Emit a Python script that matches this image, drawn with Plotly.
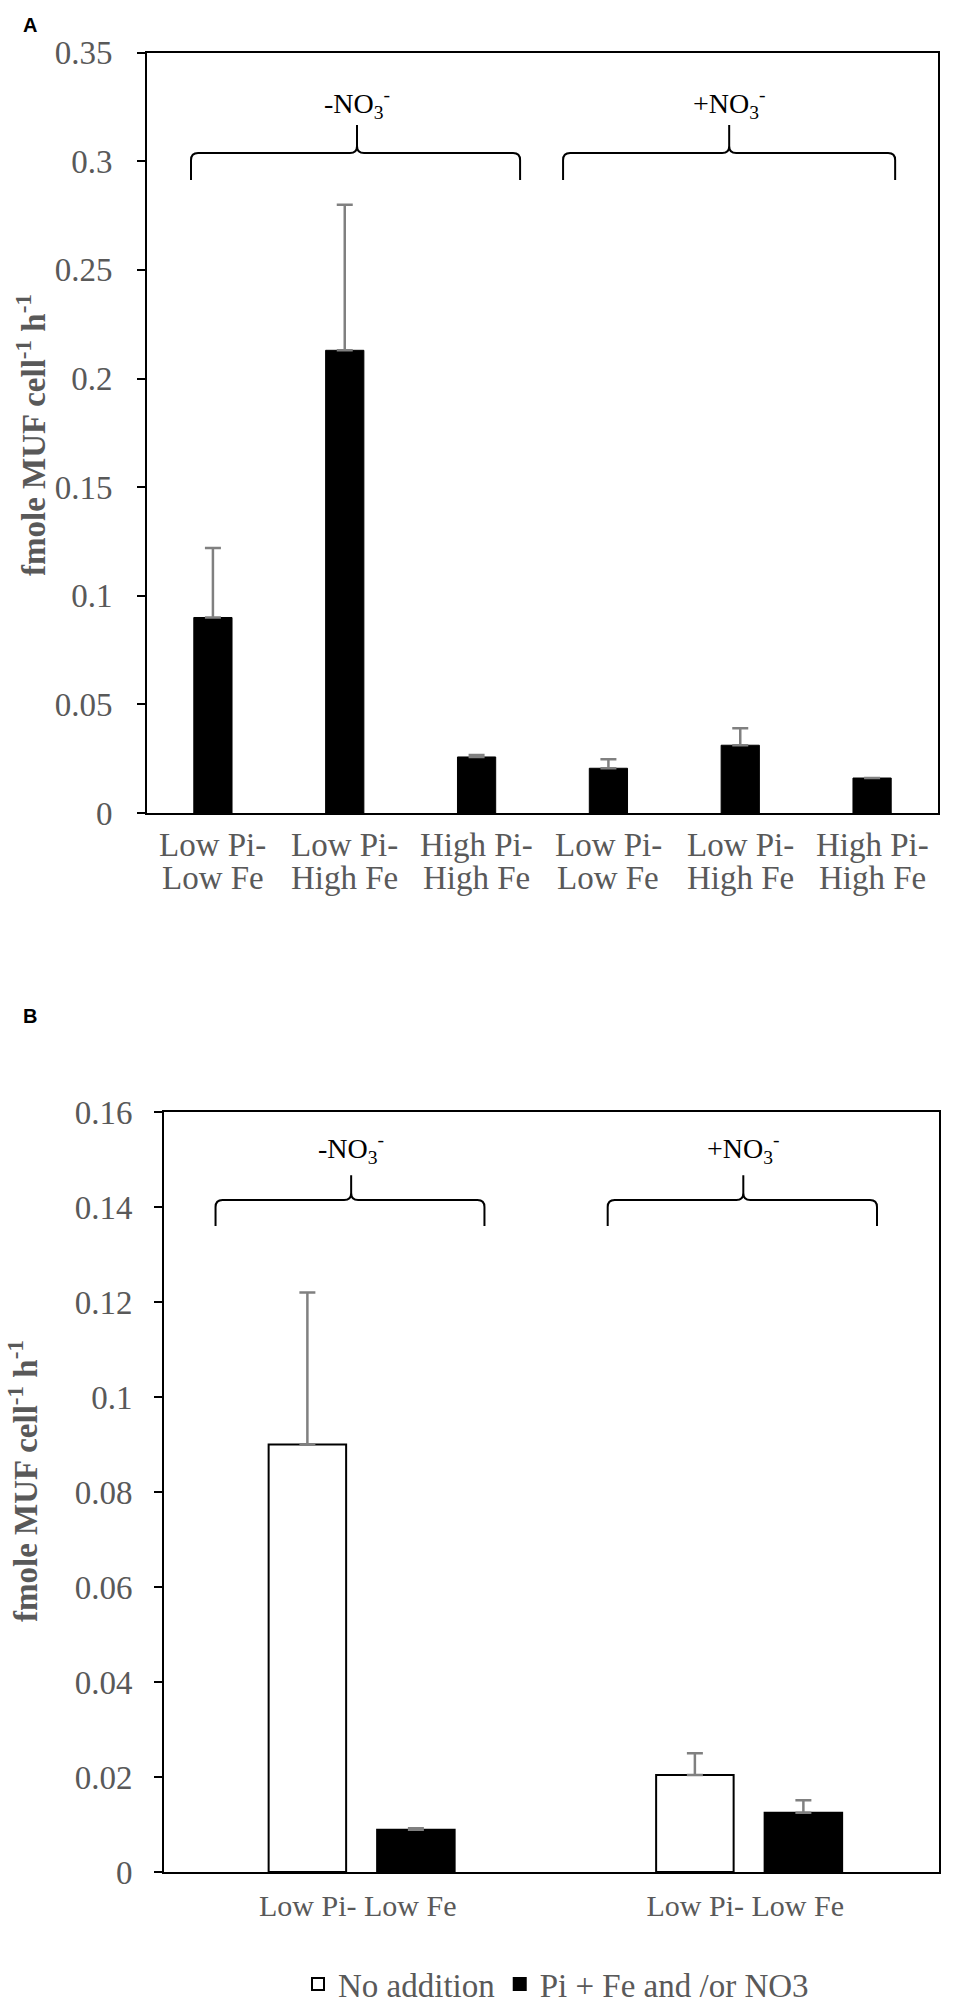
import plotly.graph_objects as go

# ---- data ----
# panel A: one bar per treatment
a_line1 = ["Low Pi-", "Low Pi-", "High Pi-", "Low Pi-", "Low Pi-", "High Pi-"]
a_line2 = ["Low Fe", "High Fe", "High Fe", "Low Fe", "High Fe", "High Fe"]
a_values = [0.090, 0.213, 0.0258, 0.0206, 0.0312, 0.0161]
a_errors = [0.032, 0.067, 0.0009, 0.0041, 0.0078, 0.0]
a_ticks = [0, 0.05, 0.1, 0.15, 0.2, 0.25, 0.3, 0.35]
a_ticktext = ["0", "0.05", "0.1", "0.15", "0.2", "0.25", "0.3", "0.35"]

# panel B: no addition vs. addition, for -NO3 and +NO3
b_labels = ["Low Pi- Low Fe", "Low Pi- Low Fe"]
b_no_addition = [0.090, 0.0204]
b_no_addition_err = [0.032, 0.0046]
b_added = [0.0089, 0.0125]
b_added_err = [0.0003, 0.0026]
b_ticks = [0, 0.02, 0.04, 0.06, 0.08, 0.1, 0.12, 0.14, 0.16]
b_ticktext = ["0", "0.02", "0.04", "0.06", "0.08", "0.1", "0.12", "0.14", "0.16"]

group_labels = ["-NO<sub>3</sub><sup>-</sup>", "+NO<sub>3</sub><sup>-</sup>"]
series_names = ["No addition", "Pi + Fe and /or NO3"]

W, H = 958, 2004
SERIF = "Liberation Serif, Times New Roman, serif"
GREY = "#595959"
ERR = "#808080"


def brace_path(x0, x1, xm, y_line, y_end, y_tip, ux, uy, r=7):
    """curly brace drawn in data coords; ux/uy are data units per pixel"""
    return (f"M{x0},{y_end} L{x0},{y_line - r * uy} Q{x0},{y_line} {x0 + r * ux},{y_line} "
            f"L{xm - r * ux},{y_line} Q{xm},{y_line} {xm},{y_line + r * uy} L{xm},{y_tip} "
            f"L{xm},{y_line + r * uy} Q{xm},{y_line} {xm + r * ux},{y_line} "
            f"L{x1 - r * ux},{y_line} Q{x1},{y_line} {x1},{y_line - r * uy} L{x1},{y_end}")


fig = go.Figure()

fig.add_trace(go.Bar(
    x=list(range(len(a_values))),
    y=a_values,
    width=0.29,
    marker=dict(color="black", line=dict(color="black", width=1)),
    error_y=dict(type="data", symmetric=False, array=a_errors,
                 arrayminus=[0] * len(a_errors), color=ERR, thickness=2.5, width=8),
    showlegend=False,
    xaxis="x", yaxis="y",
))

fig.add_trace(go.Bar(
    x=list(range(len(b_labels))),
    y=b_no_addition,
    name=series_names[0],
    width=0.2, offset=-0.23,
    marker=dict(color="white", line=dict(color="black", width=2)),
    error_y=dict(type="data", symmetric=False, array=b_no_addition_err,
                 arrayminus=[0] * len(b_labels), color=ERR, thickness=2.5, width=8),
    xaxis="x2", yaxis="y2",
))
fig.add_trace(go.Bar(
    x=list(range(len(b_labels))),
    y=b_added,
    name=series_names[1],
    width=0.2, offset=0.05,
    marker=dict(color="black", line=dict(color="black", width=2)),
    error_y=dict(type="data", symmetric=False, array=b_added_err,
                 arrayminus=[0] * len(b_labels), color=ERR, thickness=2.5, width=8),
    xaxis="x2", yaxis="y2",
))

axis_common = dict(showline=True, linecolor="black", linewidth=2, mirror=True,
                   showgrid=False, zeroline=False, automargin=False)

# pixel boxes of the two plot areas
a_box = (147, 938, 52.7, 813)
b_box = (164, 939, 1112, 1872)

shapes = []
annotations = []

# brackets + group labels, panel A
ux_a = 6 / (a_box[1] - a_box[0])
uy_a = 0.35 / (a_box[3] - a_box[2])
for (x0, x1, xm), lab in zip([(-0.166, 2.33, 1.093), (2.656, 5.175, 3.916)], group_labels):
    shapes.append(dict(type="path", xref="x", yref="y",
                       path=brace_path(x0, x1, xm, 0.3038, 0.2914, 0.3167, ux_a, uy_a),
                       line=dict(color="black", width=2)))
    annotations.append(dict(x=xm, y=0.3264, xref="x", yref="y", text=lab, showarrow=False,
                            xanchor="center", yanchor="middle",
                            font=dict(family=SERIF, size=28, color="black")))

# brackets + group labels, panel B
ux_b = 2 / (b_box[1] - b_box[0])
uy_b = 0.16 / (b_box[3] - b_box[2])
for (x0, x1, xm), lab in zip([(-0.367, 0.327, -0.017), (0.645, 1.34, 0.995)], group_labels):
    shapes.append(dict(type="path", xref="x2", yref="y2",
                       path=brace_path(x0, x1, xm, 0.1415, 0.136, 0.1467, ux_b, uy_b),
                       line=dict(color="black", width=2)))
    annotations.append(dict(x=xm, y=0.1523, xref="x2", yref="y2", text=lab, showarrow=False,
                            xanchor="center", yanchor="middle",
                            font=dict(family=SERIF, size=28, color="black")))

# two-line category labels of panel A
for i, (l1, l2) in enumerate(zip(a_line1, a_line2)):
    annotations.append(dict(x=i, y=1 - 845 / H, xref="x", yref="paper", text=l1, showarrow=False,
                            xanchor="center", yanchor="middle",
                            font=dict(family=SERIF, size=33, color=GREY)))
    annotations.append(dict(x=i, y=1 - 878 / H, xref="x", yref="paper", text=l2, showarrow=False,
                            xanchor="center", yanchor="middle",
                            font=dict(family=SERIF, size=33, color=GREY)))

# y titles
ytitle = "<b>fmole MUF cell<sup>-1</sup> h<sup>-1</sup></b>"
for px, py in [(31, 435), (23, 1481)]:
    annotations.append(dict(x=px / W, y=1 - py / H, xref="paper", yref="paper", text=ytitle,
                            textangle=-90, showarrow=False, xanchor="center", yanchor="middle",
                            font=dict(family=SERIF, size=33, color=GREY)))

# panel letters
for letter, py in [("A", 25), ("B", 1016)]:
    annotations.append(dict(x=30 / W, y=1 - py / H, xref="paper", yref="paper", text="<b>%s</b>" % letter,
                            showarrow=False, xanchor="center", yanchor="middle",
                            font=dict(family="Liberation Sans, Arial", size=20, color="black")))

fig.update_layout(
    template="none",
    width=W, height=H,
    margin=dict(l=0, r=0, t=0, b=0, autoexpand=False),
    paper_bgcolor="white", plot_bgcolor="white",
    barmode="group",
    xaxis=dict(domain=[a_box[0] / W, a_box[1] / W], range=[-0.5, 5.5], anchor="y",
               ticks="", showticklabels=False, **axis_common),
    yaxis=dict(domain=[1 - a_box[3] / H, 1 - a_box[2] / H], range=[0, 0.35], anchor="x",
               tickvals=a_ticks, ticktext=a_ticktext, ticks="outside", ticklen=8, tickwidth=2,
               tickcolor="black", ticklabelstandoff=18,
               tickfont=dict(family=SERIF, size=33, color=GREY), **axis_common),
    xaxis2=dict(domain=[b_box[0] / W, b_box[1] / W], range=[-0.5, 1.5], anchor="y2",
                tickvals=list(range(len(b_labels))), ticktext=b_labels, ticks="",
                ticklabelstandoff=6,
                tickfont=dict(family=SERIF, size=30, color=GREY), **axis_common),
    yaxis2=dict(domain=[1 - b_box[3] / H, 1 - b_box[2] / H], range=[0, 0.16], anchor="x2",
                tickvals=b_ticks, ticktext=b_ticktext, ticks="outside", ticklen=8, tickwidth=2,
                tickcolor="black", ticklabelstandoff=15,
                tickfont=dict(family=SERIF, size=33, color=GREY), **axis_common),
    legend=dict(orientation="h", x=556 / W, xanchor="center", y=1 - 1984 / H, yanchor="middle",
                font=dict(family=SERIF, size=33, color=GREY), itemwidth=30,
                bgcolor="rgba(0,0,0,0)"),
    shapes=shapes,
    annotations=annotations,
)

fig.write_html("out.html", config={"displayModeBar": False},
               post_script="document.body.style.margin='0px';")
